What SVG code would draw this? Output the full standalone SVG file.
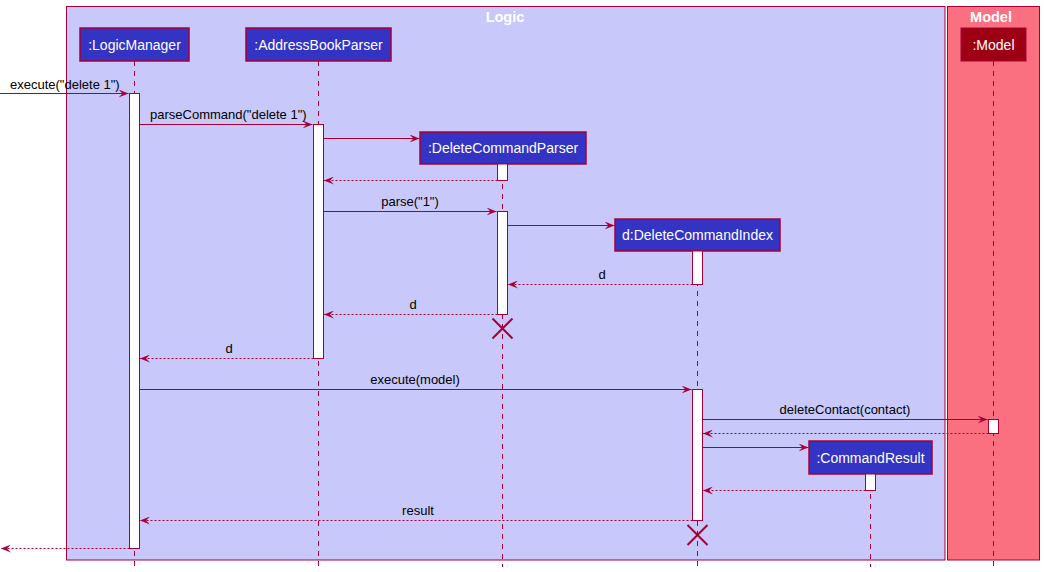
<svg xmlns="http://www.w3.org/2000/svg" width="1044" height="572" viewBox="0 0 1044 572">
<style>
text{font-family:"Liberation Sans",Arial,sans-serif}
.msg{font-size:13px;fill:#000}
.pt{font-size:14px;fill:#fff}
.ttl{font-size:14.5px;font-weight:bold;fill:#fff}
.life{stroke:#A80036;stroke-width:1;stroke-dasharray:5,5;fill:none}
.ln{stroke:#A80036;stroke-width:1;fill:none}
.rt{stroke:#A80036;stroke-width:1;fill:none;stroke-dasharray:2,2}
.act{fill:#fff;stroke:#A80036;stroke-width:1}
.pbox{fill:#3333C4;stroke:#A80036;stroke-width:1.5}
.x{stroke:#A80036;stroke-width:2}
</style>
<defs>
<marker id="ah" viewBox="0 0 10 8" refX="10" refY="4" markerWidth="10" markerHeight="8" markerUnits="userSpaceOnUse" orient="auto">
<polygon points="0,0 10,4 0,8 4,4" fill="#A80036"/>
</marker>
</defs>
<g id="box-logic">
<rect x="66.5" y="6.5" width="878.5" height="553.5" fill="#C8C8FA" stroke="#A80036" stroke-width="1"/>
<text class="ttl" x="505" y="22" text-anchor="middle">Logic</text>
</g>
<g id="box-model">
<rect x="947.5" y="6.5" width="92" height="553.5" fill="#FB7080" stroke="#A80036" stroke-width="1"/>
<text class="ttl" x="991" y="22" text-anchor="middle">Model</text>
</g>
<g id="lifelines">
<line class="life" x1="134.5" y1="61" x2="134.5" y2="567"/>
<line class="life" x1="318.5" y1="61" x2="318.5" y2="567"/>
<line class="life" x1="502.5" y1="164" x2="502.5" y2="567"/>
<line class="life" x1="697.5" y1="251" x2="697.5" y2="567"/>
<line class="life" x1="870.5" y1="474" x2="870.5" y2="567"/>
<line class="life" x1="993.5" y1="61" x2="993.5" y2="567"/>
</g>
<g id="LogicManager">
<rect class="pbox" x="80" y="28" width="109" height="33"/>
<text class="pt" x="134.5" y="50" text-anchor="middle">:LogicManager</text>
<rect class="act" x="129.5" y="93.5" width="10" height="455"/>
</g>
<g id="AddressBookParser">
<rect class="pbox" x="246" y="28" width="145" height="33"/>
<text class="pt" x="318.5" y="50" text-anchor="middle">:AddressBookParser</text>
<rect class="act" x="313.5" y="124.5" width="10" height="234"/>
</g>
<g id="DeleteCommandParser">
<rect class="pbox" x="420" y="132" width="166" height="32"/>
<text class="pt" x="503" y="153" text-anchor="middle">:DeleteCommandParser</text>
<rect class="act" x="497.5" y="164" width="10" height="16.5"/>
<rect class="act" x="497.5" y="211.5" width="10" height="103"/>
<g class="x"><line x1="492.5" y1="318.5" x2="512.5" y2="338.5"/><line x1="512.5" y1="318.5" x2="492.5" y2="338.5"/></g>
</g>
<g id="DeleteCommandIndex">
<rect class="pbox" x="615" y="219" width="165" height="32"/>
<text class="pt" x="697.5" y="240" text-anchor="middle">d:DeleteCommandIndex</text>
<rect class="act" x="692.5" y="251" width="10" height="33.5"/>
<rect class="act" x="692.5" y="389.5" width="10" height="131"/>
<g class="x"><line x1="687.5" y1="525" x2="707.5" y2="545"/><line x1="707.5" y1="525" x2="687.5" y2="545"/></g>
</g>
<g id="CommandResult">
<rect class="pbox" x="809" y="441" width="123" height="33"/>
<text class="pt" x="870.5" y="463" text-anchor="middle">:CommandResult</text>
<rect class="act" x="865.5" y="474" width="10" height="16.5"/>
</g>
<g id="Model">
<rect x="961" y="28" width="65" height="33" fill="#9D0012" stroke="#A80036" stroke-width="1"/>
<text class="pt" x="993.5" y="50" text-anchor="middle">:Model</text>
<rect class="act" x="988.5" y="419.5" width="10" height="14"/>
</g>
<g id="connectors">
<line class="ln" x1="0" y1="93.5" x2="128.5" y2="93.5" marker-end="url(#ah)"/>
<text class="msg" x="10" y="89">execute("delete 1")</text>
<line class="ln" x1="139.5" y1="124.5" x2="312.5" y2="124.5" marker-end="url(#ah)"/>
<text class="msg" x="150" y="119">parseCommand("delete 1")</text>
<line class="ln" x1="323.5" y1="138.5" x2="419.5" y2="138.5" marker-end="url(#ah)"/>
<line class="rt" x1="497.5" y1="180.5" x2="324" y2="180.5" marker-end="url(#ah)"/>
<line class="ln" x1="323.5" y1="211.5" x2="496.5" y2="211.5" marker-end="url(#ah)"/>
<text class="msg" x="410" y="206" text-anchor="middle">parse("1")</text>
<line class="ln" x1="507.5" y1="225.5" x2="614.5" y2="225.5" marker-end="url(#ah)"/>
<line class="rt" x1="692.5" y1="284.5" x2="508" y2="284.5" marker-end="url(#ah)"/>
<text class="msg" x="602" y="279" text-anchor="middle">d</text>
<line class="rt" x1="497.5" y1="314.5" x2="324" y2="314.5" marker-end="url(#ah)"/>
<text class="msg" x="413" y="309" text-anchor="middle">d</text>
<line class="rt" x1="313.5" y1="358.5" x2="140" y2="358.5" marker-end="url(#ah)"/>
<text class="msg" x="229" y="353" text-anchor="middle">d</text>
<line class="ln" x1="139.5" y1="389.5" x2="691.5" y2="389.5" marker-end="url(#ah)"/>
<text class="msg" x="415" y="384" text-anchor="middle">execute(model)</text>
<line class="ln" x1="702.5" y1="419.5" x2="987.5" y2="419.5" marker-end="url(#ah)"/>
<text class="msg" x="845" y="414" text-anchor="middle">deleteContact(contact)</text>
<line class="rt" x1="988.5" y1="433.5" x2="703" y2="433.5" marker-end="url(#ah)"/>
<line class="ln" x1="702.5" y1="447.5" x2="808.5" y2="447.5" marker-end="url(#ah)"/>
<line class="rt" x1="865.5" y1="490.5" x2="703" y2="490.5" marker-end="url(#ah)"/>
<line class="rt" x1="692.5" y1="520.5" x2="140" y2="520.5" marker-end="url(#ah)"/>
<text class="msg" x="418" y="515" text-anchor="middle">result</text>
<line class="rt" x1="129.5" y1="548.5" x2="1" y2="548.5" marker-end="url(#ah)"/>
</g>
</svg>
